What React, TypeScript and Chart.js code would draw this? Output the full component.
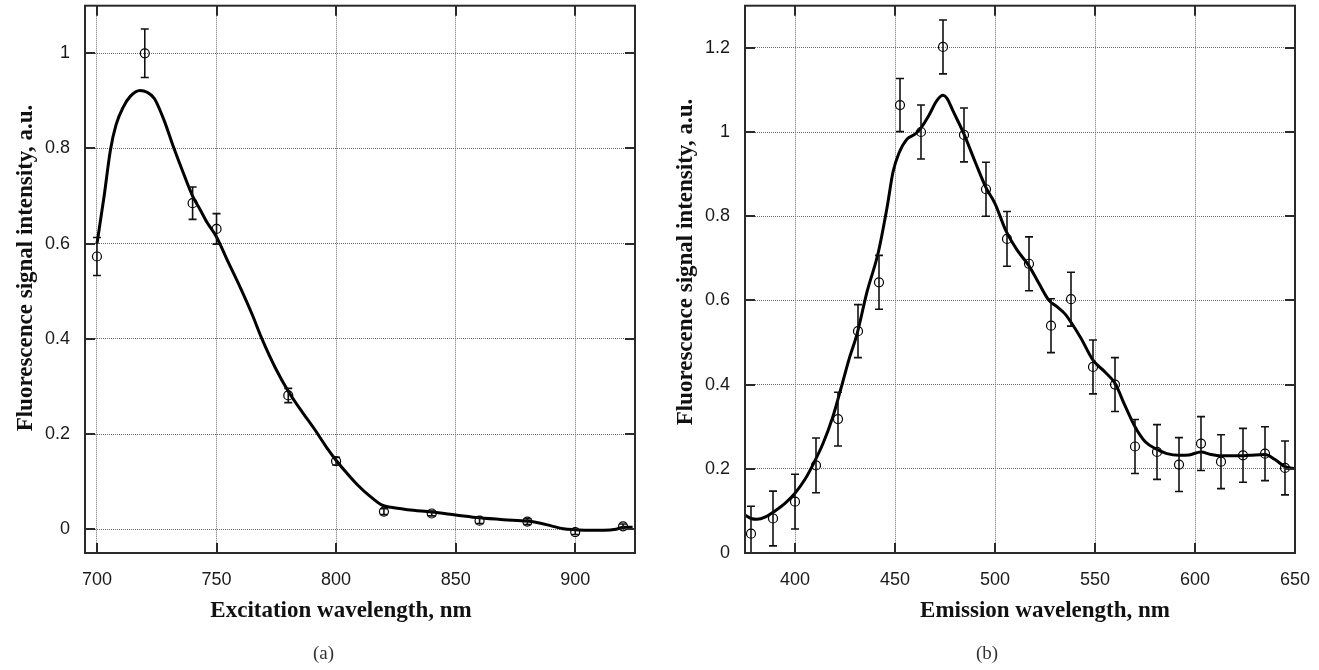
import React, { useEffect, useRef } from "react";
import { Chart, registerables } from "chart.js";

Chart.register(...registerables);

// ---------- Data: (a) excitation spectrum ----------
const excWavelengths = [700, 720, 740, 750, 780, 800, 820, 840, 860, 880, 900, 920];
const excIntensity = [0.573, 1.0, 0.685, 0.631, 0.281, 0.143, 0.037, 0.033, 0.018, 0.016, -0.006, 0.006];
const excError = [0.04, 0.051, 0.034, 0.032, 0.015, 0.008, 0.006, 0.005, 0.006, 0.006, 0.005, 0.005];
const excFitX = [700, 703, 705.6, 708, 711, 714, 718, 721, 724, 728, 732, 736, 740, 743, 746, 750, 755, 760, 765, 769, 775, 780, 786, 791, 796, 800, 805, 809, 814, 819, 823, 830, 840, 850, 860, 870, 880, 885, 890, 895, 900, 905, 912, 917, 920, 924];
const excFitY = [0.6, 0.7, 0.796, 0.85, 0.887, 0.91, 0.922, 0.918, 0.905, 0.86, 0.803, 0.75, 0.7, 0.673, 0.645, 0.614, 0.56, 0.507, 0.45, 0.4, 0.335, 0.29, 0.245, 0.21, 0.172, 0.145, 0.115, 0.093, 0.07, 0.051, 0.046, 0.041, 0.036, 0.03, 0.024, 0.02, 0.017, 0.013, 0.007, 0.001, -0.001, -0.002, -0.002, 0.0, 0.004, 0.004];
const excXTicks = [700, 750, 800, 850, 900];
const excYTicks = [0, 0.2, 0.4, 0.6, 0.8, 1];

// ---------- Data: (b) emission spectrum ----------
const emWavelengths = [378, 389, 400, 410.5, 421.5, 431.5, 442, 452.5, 463, 474, 484.5, 495.5, 506, 517, 528, 538, 549, 560, 570, 581, 592, 603, 613, 624, 635, 645];
const emIntensity = [0.046, 0.082, 0.122, 0.208, 0.318, 0.527, 0.643, 1.064, 1.0, 1.202, 0.993, 0.864, 0.746, 0.687, 0.54, 0.603, 0.442, 0.4, 0.253, 0.24, 0.21, 0.26, 0.217, 0.232, 0.236, 0.202];
const emError = [0.065, 0.065, 0.065, 0.065, 0.064, 0.063, 0.064, 0.063, 0.064, 0.064, 0.064, 0.064, 0.065, 0.064, 0.064, 0.064, 0.064, 0.064, 0.064, 0.065, 0.064, 0.064, 0.064, 0.064, 0.064, 0.064];
const emFitX = [375, 378, 381, 385, 390, 395, 400, 405, 409, 414, 419, 423.5, 427, 431, 436, 441.7, 446, 449, 452, 456, 460, 463, 467, 471, 474, 476, 479, 484.5, 490, 495.5, 500, 505.5, 511, 517, 522, 527, 531, 535, 538, 543, 549, 555, 560, 565, 570, 575, 581, 586, 592, 597, 603, 608, 613, 620, 627, 635, 640, 645, 650];
const emFitY = [0.09, 0.082, 0.08, 0.085, 0.1, 0.118, 0.142, 0.175, 0.21, 0.26, 0.325, 0.4, 0.46, 0.52, 0.62, 0.715, 0.82, 0.905, 0.95, 0.983, 0.995, 1.01, 1.04, 1.075, 1.087, 1.08, 1.05, 0.995, 0.93, 0.868, 0.83, 0.765, 0.72, 0.682, 0.64, 0.6, 0.585, 0.568, 0.548, 0.51, 0.458, 0.43, 0.403, 0.35, 0.3, 0.265, 0.246, 0.236, 0.232, 0.233, 0.24, 0.234, 0.231, 0.231, 0.232, 0.234, 0.222, 0.205, 0.2];
const emXTicks = [400, 450, 500, 550, 600, 650];
const emYTicks = [0, 0.2, 0.4, 0.6, 0.8, 1, 1.2];

const yTitle = "Fluorescence signal intensity, a.u.";

type Panel = {
  x: number[]; y: number[]; err: number[];
  fitX: number[]; fitY: number[];
  xTicks: number[]; yTicks: number[];
  xMin: number; xMax: number; yMin: number; yMax: number;
  xTitle: string; caption: string;
  xTitleX: number; yTitleY: number; captionX: number;
  padRight: number; width: number;
};

const panels: Panel[] = [
  {
    x: excWavelengths, y: excIntensity, err: excError, fitX: excFitX, fitY: excFitY,
    xTicks: excXTicks, yTicks: excYTicks, xMin: 695, xMax: 925, yMin: -0.05, yMax: 1.1,
    xTitle: "Excitation wavelength, nm", caption: "(a)",
    xTitleX: 341, yTitleY: 268, captionX: 323.5, padRight: 25, width: 660,
  },
  {
    x: emWavelengths, y: emIntensity, err: emError, fitX: emFitX, fitY: emFitY,
    xTicks: emXTicks, yTicks: emYTicks, xMin: 375, xMax: 650, yMin: 0, yMax: 1.3,
    xTitle: "Emission wavelength, nm", caption: "(b)",
    xTitleX: 385, yTitleY: 262, captionX: 327, padRight: 24, width: 659,
  },
];

const fmt = (v: number) => String(Math.round(v * 100) / 100);
const tickFont = { family: '"Liberation Sans", Arial, sans-serif', size: 18 };

function makeDecor(p: Panel) {
  return {
    id: "decor",
    afterDatasetsDraw(chart: any) {
      const { ctx, chartArea: a, scales } = chart;
      const xs = scales.x, ys = scales.y;
      ctx.save();
      ctx.beginPath();
      ctx.rect(a.left, a.top, a.right - a.left, a.bottom - a.top);
      ctx.clip();
      ctx.strokeStyle = "#111";
      ctx.lineWidth = 1.6;
      p.x.forEach((xv, i) => {
        const px = xs.getPixelForValue(xv);
        const y1 = ys.getPixelForValue(p.y[i] + p.err[i]);
        const y2 = ys.getPixelForValue(p.y[i] - p.err[i]);
        ctx.beginPath();
        ctx.moveTo(px, y1); ctx.lineTo(px, y2);
        ctx.moveTo(px - 4, y1); ctx.lineTo(px + 4, y1);
        ctx.moveTo(px - 4, y2); ctx.lineTo(px + 4, y2);
        ctx.stroke();
      });
      ctx.restore();
    },
    afterDraw(chart: any) {
      const { ctx, chartArea: a, scales } = chart;
      const xs = scales.x, ys = scales.y;
      ctx.save();
      ctx.strokeStyle = "#2a2a2a";
      ctx.lineWidth = 2;
      ctx.beginPath();
      p.xTicks.forEach((v) => {
        const px = Math.round(xs.getPixelForValue(v));
        if (px <= a.left + 1 || px >= a.right - 1) return;
        ctx.moveTo(px, a.bottom); ctx.lineTo(px, a.bottom - 10);
        ctx.moveTo(px, a.top); ctx.lineTo(px, a.top + 10);
      });
      p.yTicks.forEach((v) => {
        const py = Math.round(ys.getPixelForValue(v));
        if (py <= a.top + 1 || py >= a.bottom - 1) return;
        ctx.moveTo(a.left, py); ctx.lineTo(a.left + 10, py);
        ctx.moveTo(a.right, py); ctx.lineTo(a.right - 10, py);
      });
      ctx.stroke();
      ctx.strokeRect(a.left, a.top, a.right - a.left, a.bottom - a.top);

      ctx.fillStyle = "#111";
      ctx.font = 'bold 23px "Liberation Serif", "Times New Roman", serif';
      ctx.textAlign = "center";
      ctx.textBaseline = "alphabetic";
      ctx.fillText(p.xTitle, p.xTitleX, 617);
      ctx.save();
      ctx.translate(32, p.yTitleY);
      ctx.rotate(-Math.PI / 2);
      ctx.fillText(yTitle, 0, 0);
      ctx.restore();

      ctx.fillStyle = "#333";
      ctx.font = '19px "Liberation Serif", "Times New Roman", serif';
      ctx.fillText(p.caption, p.captionX, 659);
      ctx.restore();
    },
  };
}

function makeConfig(p: Panel): any {
  return {
    type: "scatter",
    data: {
      datasets: [
        {
          type: "line",
          data: p.fitX.map((x, i) => ({ x, y: p.fitY[i] })),
          borderColor: "#000",
          borderWidth: 3,
          pointRadius: 0,
          cubicInterpolationMode: "monotone",
          fill: false,
        },
        {
          type: "scatter",
          data: p.x.map((x, i) => ({ x, y: p.y[i] })),
          pointRadius: 4.5,
          pointBorderWidth: 1.2,
          borderColor: "#000",
          backgroundColor: "rgba(0,0,0,0)",
          pointStyle: "circle",
        },
      ],
    },
    options: {
      animation: false,
      responsive: false,
      devicePixelRatio: 1,
      layout: { padding: { top: 5, right: p.padRight, left: 0, bottom: 0 } },
      plugins: { legend: { display: false }, tooltip: { enabled: false } },
      scales: {
        x: {
          type: "linear",
          min: p.xMin,
          max: p.xMax,
          afterBuildTicks: (s: any) => { s.ticks = p.xTicks.map((v) => ({ value: v })); },
          afterFit: (s: any) => { s.height = 117; s.paddingLeft = 0; s.paddingRight = 0; s.paddingTop = 0; s.paddingBottom = 0; },
          grid: { color: "#6e6e6e", lineWidth: 1, drawTicks: false },
          border: { display: false, dash: [1, 1] },
          ticks: { padding: 16, color: "#1a1a1a", font: tickFont, maxRotation: 0, callback: (v: number) => fmt(v) },
        },
        y: {
          type: "linear",
          min: p.yMin,
          max: p.yMax,
          afterBuildTicks: (s: any) => { s.ticks = p.yTicks.map((v) => ({ value: v })); },
          afterFit: (s: any) => { s.width = 85; s.paddingLeft = 0; s.paddingRight = 0; s.paddingTop = 0; s.paddingBottom = 0; },
          grid: { color: "#6e6e6e", lineWidth: 1, drawTicks: false },
          border: { display: false, dash: [1, 1] },
          ticks: { padding: 15, color: "#1a1a1a", font: tickFont, callback: (v: number) => fmt(v) },
        },
      },
    },
    plugins: [makeDecor(p)],
  };
}

function Panel({ p, left }: { p: Panel; left: number }) {
  const ref = useRef<HTMLCanvasElement | null>(null);
  useEffect(() => {
    if (!ref.current) return;
    const chart = new Chart(ref.current, makeConfig(p));
    return () => chart.destroy();
  }, [p]);
  return (
    <canvas
      ref={ref}
      width={p.width}
      height={670}
      style={{ position: "absolute", left, top: 0, width: p.width, height: 670, display: "block" }}
    />
  );
}

export default function App() {
  return (
    <div style={{ position: "absolute", left: 0, top: 0, width: 1319, height: 670, background: "#fff", overflow: "hidden" }}>
      <Panel p={panels[0]} left={0} />
      <Panel p={panels[1]} left={660} />
    </div>
  );
}
